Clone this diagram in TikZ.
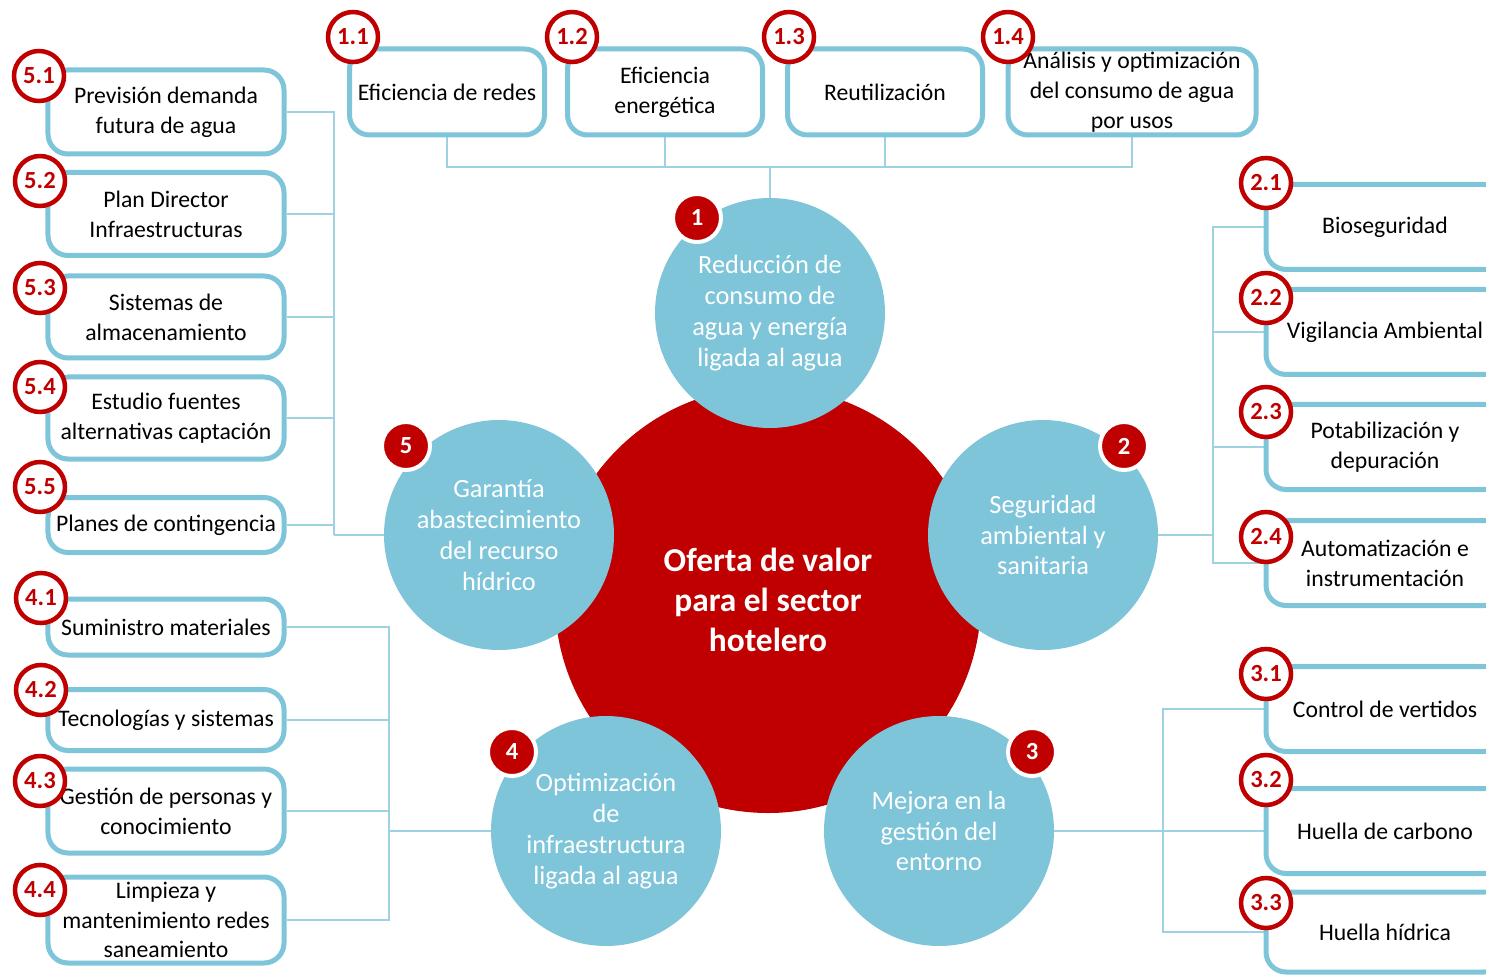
\documentclass[tikz,border=0pt]{standalone}
\usepackage{fontspec}
\setmainfont{Carlito}
\usetikzlibrary{positioning}
\definecolor{ringred}{HTML}{C00000}
\definecolor{ballblue}{HTML}{7EC5DA}
\definecolor{linkblue}{HTML}{9ED2E2}
\pgfdeclarelayer{back}
\pgfsetlayers{back,main}
\tikzset{
	core/.style={shape=circle,fill=ringred,minimum size=85.2mm,inner sep=0pt,text=white,align=center,font=\fontsize{19}{22.8}\selectfont\bfseries},
	pillar/.style={shape=circle,fill=ballblue,minimum size=46mm,inner sep=0pt,text=white,align=center,font=\fontsize{15}{17.6}\selectfont},
	pillar-num/.style={shape=circle,fill=ringred,draw=white,line width=0.8mm,minimum size=9.6mm,inner sep=0pt,text=white,font=\fontsize{14}{14}\selectfont\bfseries},
	task/.style={shape=rectangle,rounded corners=4mm,draw=ballblue,line width=1mm,fill=white,align=center,inner sep=0pt,minimum width=47.2mm,font=\fontsize{13.5}{17}\selectfont},
	task-num/.style={shape=circle,draw=ringred,line width=0.9mm,fill=white,minimum size=10mm,inner sep=0pt,text=ringred,font=\fontsize{14}{14}\selectfont\bfseries},
	link/.style={draw=linkblue,line width=0.4mm},
}

\begin{document}
\begin{tikzpicture}[x=0.2mm,y=-0.2mm]
	\useasboundingbox (0,0) rectangle (1486,976);
	\clip (0,0) rectangle (1486,976);

	% centre and the five lines of work
	\node[core] (core) at (768,600) {Oferta de valor\\para el sector\\hotelero};
	\node[pillar] (c1) at (770,313) {Reducción de\\consumo de\\agua y energía\\ligada al agua};
	\node[pillar] (c2) at (1043,535) {Seguridad\\ambiental y\\sanitaria};
	\node[pillar] (c3) at (939,831) {Mejora en la\\gestión del\\entorno};
	\node[pillar] (c4) at (606,831) {Optimización\\de\\infraestructura\\ligada al agua};
	\node[pillar] (c5) at (499,535) {Garantía\\abastecimiento\\del recurso\\hídrico};

	\node[pillar-num] (n1) at (697,218) {1};
	\node[pillar-num] (n2) at (1124,446) {2};
	\node[pillar-num] (n3) at (1032,752) {3};
	\node[pillar-num] (n4) at (512,752) {4};
	\node[pillar-num] (n5) at (406,446) {5};

	% line 1
	\node[task,minimum width=39mm,minimum height=17.2mm] (b11) at (447,92) {Eficiencia de redes};
	\node[task,minimum width=39mm,minimum height=17.2mm] (b12) at (665,92) {Eficiencia\\energética};
	\node[task,minimum width=39mm,minimum height=17.2mm] (b13) at (885,92) {Reutilización};
	\node[task,minimum width=49.6mm,minimum height=17.2mm] (b14) at (1132,92) {Análisis y optimización\\del consumo de agua\\por usos};

	% line 2
	\node[task,minimum width=47.6mm,minimum height=17mm] (b21) at (1385,227) {Bioseguridad};
	\node[task,minimum width=47.6mm,minimum height=17mm] (b22) at (1385,332) {Vigilancia Ambiental};
	\node[task,minimum width=47.6mm,minimum height=17mm] (b23) at (1385,447) {Potabilización y\\depuración};
	\node[task,minimum width=47.6mm,minimum height=17mm] (b24) at (1385,563) {Automatización e\\instrumentación};

	% line 3
	\node[task,minimum width=47.6mm,minimum height=17mm] (b31) at (1385,709) {Control de vertidos};
	\node[task,minimum width=47.6mm,minimum height=17mm] (b32) at (1385,831) {Huella de carbono};
	\node[task,minimum width=47.6mm,minimum height=16mm] (b33) at (1385,932) {Huella hídrica};

	% line 4
	\node[task,minimum height=11.2mm] (b41) at (166,627) {Suministro materiales};
	\node[task,minimum height=12.2mm] (b42) at (166,720) {Tecnologías y sistemas};
	\node[task,minimum height=16.8mm] (b43) at (166,811) {Gestión de personas y\\conocimiento};
	\node[task,minimum height=17.2mm] (b44) at (166,920) {Limpieza y\\mantenimiento redes\\saneamiento};

	% line 5
	\node[task,minimum height=16.8mm] (b51) at (166,112) {Previsión demanda\\futura de agua};
	\node[task,minimum height=16.6mm] (b52) at (166,214) {Plan Director\\Infraestructuras};
	\node[task,minimum height=16.4mm] (b53) at (166,317) {Sistemas de\\almacenamiento};
	\node[task,minimum height=16.4mm] (b54) at (166,418) {Estudio fuentes\\alternativas captación};
	\node[task,minimum height=11mm] (b55) at (166,525) {Planes de contingencia};

	% numbers on the boxes
	\node[task-num] at (353,37) {1.1};
	\node[task-num] at (572,37) {1.2};
	\node[task-num] at (789,37) {1.3};
	\node[task-num] at (1008,37) {1.4};
	\node[task-num] at (1266,183) {2.1};
	\node[task-num] at (1266,298) {2.2};
	\node[task-num] at (1266,412) {2.3};
	\node[task-num] at (1266,537) {2.4};
	\node[task-num] at (1266,674) {3.1};
	\node[task-num] at (1266,780) {3.2};
	\node[task-num] at (1266,903) {3.3};
	\node[task-num] at (41,598) {4.1};
	\node[task-num] at (41,690) {4.2};
	\node[task-num] at (40,781) {4.3};
	\node[task-num] at (40,890) {4.4};
	\node[task-num] at (39,76) {5.1};
	\node[task-num] at (40,181) {5.2};
	\node[task-num] at (40,288) {5.3};
	\node[task-num] at (40,387) {5.4};
	\node[task-num] at (40,487) {5.5};

	% connectors
	\begin{pgfonlayer}{back}
		\coordinate (j1) at (770,167);
		\coordinate (j2) at (1213,535);
		\coordinate (j3) at (1163,831);
		\coordinate (j4) at (389,831);
		\coordinate (j5) at (334,535);

		\draw[link] (b11.south) |- (j1);
		\draw[link] (b12.south) |- (j1);
		\draw[link] (b13.south) |- (j1);
		\draw[link] (b14.south) |- (j1);
		\draw[link] (j1) -- (c1.north);

		\draw[link] (b21.west) -| (j2);
		\draw[link] (b22.west) -| (j2);
		\draw[link] (b23.west) -| (j2);
		\draw[link] (b24.west) -| (j2);
		\draw[link] (c2.east) -- (j2);

		\draw[link] (b31.west) -| (j3);
		\draw[link] (b32.west) -| (j3);
		\draw[link] (b33.west) -| (j3);
		\draw[link] (c3.east) -- (j3);

		\draw[link] (b41.east) -| (j4);
		\draw[link] (b42.east) -| (j4);
		\draw[link] (b43.east) -| (j4);
		\draw[link] (b44.east) -| (j4);
		\draw[link] (c4.west) -- (j4);

		\draw[link] (b51.east) -| (j5);
		\draw[link] (b52.east) -| (j5);
		\draw[link] (b53.east) -| (j5);
		\draw[link] (b54.east) -| (j5);
		\draw[link] (b55.east) -| (j5);
		\draw[link] (c5.west) -- (j5);
	\end{pgfonlayer}
\end{tikzpicture}
\end{document}
